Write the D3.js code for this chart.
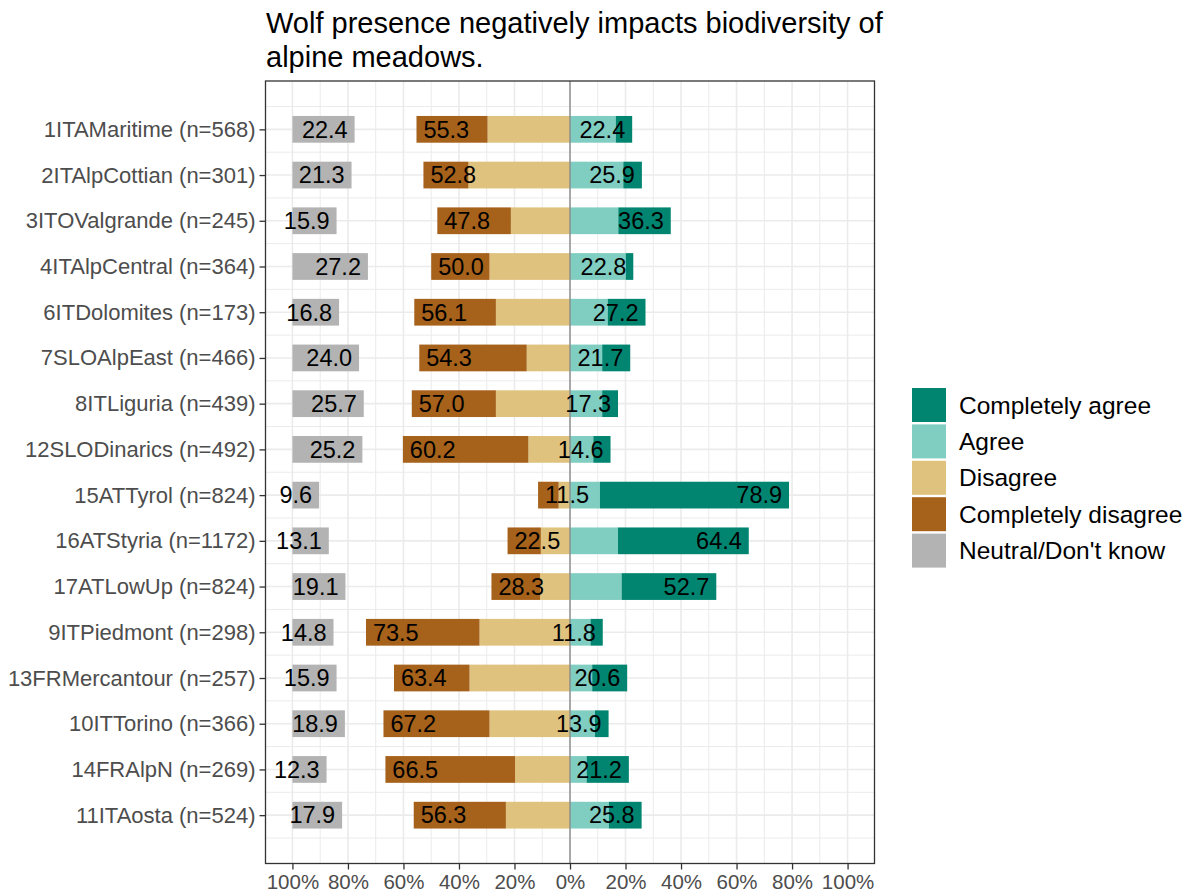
<!DOCTYPE html>
<html>
<head>
<meta charset="utf-8">
<script src="https://cdn.jsdelivr.net/npm/d3@7"></script>
<style>
  html, body { margin: 0; padding: 0; background: #fff; }
  svg { display: block; font-family: "Liberation Sans", Arial, sans-serif; }
</style>
</head>
<body>
<svg id="chart" width="1194" height="894"></svg>
<script>
const categories = [
  "1ITAMaritime (n=568)", "2ITAlpCottian (n=301)", "3ITOValgrande (n=245)", "4ITAlpCentral (n=364)",
  "6ITDolomites (n=173)", "7SLOAlpEast (n=466)", "8ITLiguria (n=439)", "12SLODinarics (n=492)",
  "15ATTyrol (n=824)", "16ATStyria (n=1172)", "17ATLowUp (n=824)", "9ITPiedmont (n=298)",
  "13FRMercantour (n=257)", "10ITTorino (n=366)", "14FRAlpN (n=269)", "11ITAosta (n=524)"
];
const completelyDisagree = [25.6, 16.2, 26.5, 21.0, 29.4, 38.7, 30.3, 45.2, 7.4, 12.0, 17.5, 40.9, 27.2, 38.2, 46.7, 33.2];
const disagree           = [29.7, 36.6, 21.3, 29.0, 26.7, 15.6, 26.7, 15.0, 4.1, 10.5, 10.8, 32.6, 36.2, 29.0, 19.8, 23.1];
const agree              = [16.5, 19.2, 17.4, 20.1, 13.6, 11.6, 11.6, 8.4, 10.8, 17.3, 18.6, 7.4, 8.0, 9.0, 6.0, 14.0];
const completelyAgree    = [5.9, 6.7, 18.9, 2.7, 13.6, 10.1, 5.7, 6.2, 68.1, 47.1, 34.1, 4.4, 12.6, 4.9, 15.2, 11.8];
const neutral            = [22.4, 21.3, 15.9, 27.2, 16.8, 24.0, 25.7, 25.2, 9.6, 13.1, 19.1, 14.8, 15.9, 18.9, 12.3, 17.9];

const legendLabels = ["Completely agree", "Agree", "Disagree", "Completely disagree", "Neutral/Don't know"];
const legendColors = ["#018571", "#80CDC1", "#DFC27D", "#A6611A", "#B3B3B3"];
const xTicks = [-1, -0.8, -0.6, -0.4, -0.2, 0, 0.2, 0.4, 0.6, 0.8, 1];
const title = ["Wolf presence negatively impacts biodiversity of", "alpine meadows."];

const svg = d3.select("#chart");
const panel = { left: 265.5, right: 874.5, top: 81, bottom: 863.5 };

const x = d3.scaleLinear().domain([-1.097, 1.097]).range([panel.left, panel.right]);
const y = d3.scalePoint().domain(categories).range([panel.top, panel.bottom]).padding(1.057);
const step = y.step();
const barH = step * 0.585;
const col = d3.scaleOrdinal().domain(legendLabels).range(legendColors);

svg.append("rect").attr("x", panel.left).attr("y", panel.top)
  .attr("width", panel.right - panel.left).attr("height", panel.bottom - panel.top)
  .attr("fill", "#fff");

const grid = svg.append("g");
d3.range(-11, 12).forEach(k => {
  const r = k / 10;
  const isMajor = k % 2 === 0;
  if (x(r) < panel.left || x(r) > panel.right) return;
  grid.append("line").attr("x1", x(r)).attr("x2", x(r))
    .attr("y1", panel.top).attr("y2", panel.bottom)
    .attr("stroke", "#EBEBEB").attr("stroke-width", isMajor ? 1.6 : 1);
});
categories.forEach(c => {
  grid.append("line").attr("x1", panel.left).attr("x2", panel.right)
    .attr("y1", y(c)).attr("y2", y(c)).attr("stroke", "#EBEBEB").attr("stroke-width", 1.6);
});
for (let i = -1; i < categories.length; i++) {
  const yy = (i >= 0 ? y(categories[i]) : y(categories[0]) - step) + step / 2;
  if (yy < panel.top || yy > panel.bottom) continue;
  grid.append("line").attr("x1", panel.left).attr("x2", panel.right)
    .attr("y1", yy).attr("y2", yy).attr("stroke", "#EBEBEB").attr("stroke-width", 1);
}

const segs = [];
categories.forEach((c, i) => {
  const cd = completelyDisagree[i] / 100, d = disagree[i] / 100;
  const a = agree[i] / 100, ca = completelyAgree[i] / 100, n = neutral[i] / 100;
  segs.push({ c, k: "Disagree", x0: -d, x1: 0 });
  segs.push({ c, k: "Completely disagree", x0: -d - cd, x1: -d });
  segs.push({ c, k: "Agree", x0: 0, x1: a });
  segs.push({ c, k: "Completely agree", x0: a, x1: a + ca });
  segs.push({ c, k: "Neutral/Don't know", x0: -1, x1: -1 + n });
});

svg.append("g").selectAll("rect").data(segs).join("rect")
  .attr("x", s => x(s.x0)).attr("width", s => x(s.x1) - x(s.x0))
  .attr("y", s => y(s.c) - barH / 2).attr("height", barH)
  .attr("fill", s => col(s.k));

svg.append("line").attr("x1", x(0)).attr("x2", x(0))
  .attr("y1", panel.top).attr("y2", panel.bottom)
  .attr("stroke", "#8A8A8A").attr("stroke-width", 1.4);

const off = 0.025;
const lab = svg.append("g").attr("font-size", 23.5).attr("fill", "#000");
categories.forEach((c, i) => {
  const low = completelyDisagree[i] + disagree[i];
  const high = agree[i] + completelyAgree[i];
  const n = neutral[i];
  const yy = y(c) + 8.3;
  lab.append("text").attr("x", x(-low / 100 + off)).attr("y", yy)
    .attr("text-anchor", "start").text(low.toFixed(1));
  lab.append("text").attr("x", x(high / 100 - off)).attr("y", yy)
    .attr("text-anchor", "end").text(high.toFixed(1));
  lab.append("text").attr("x", x(-1 + n / 100 - off)).attr("y", yy)
    .attr("text-anchor", "end").text(n.toFixed(1));
});

svg.append("rect").attr("x", panel.left).attr("y", panel.top)
  .attr("width", panel.right - panel.left).attr("height", panel.bottom - panel.top)
  .attr("fill", "none").attr("stroke", "#333").attr("stroke-width", 1.3);

const xAxis = d3.axisBottom(x).tickValues(xTicks).tickSize(6).tickPadding(5)
  .tickFormat(v => Math.round(Math.abs(v) * 100) + "%");
const gx = svg.append("g").attr("transform", `translate(0,${panel.bottom})`).call(xAxis);
gx.select(".domain").remove();
gx.selectAll(".tick line").attr("stroke", "#333").attr("stroke-width", 1.3);
gx.selectAll(".tick text").attr("fill", "#4D4D4D").attr("font-size", 20.5)
  .attr("font-family", "Liberation Sans, Arial, sans-serif");

const yAxis = d3.axisLeft(y).tickSize(6).tickPadding(4);
const gy = svg.append("g").attr("transform", `translate(${panel.left},0)`).call(yAxis);
gy.select(".domain").remove();
gy.selectAll(".tick line").attr("stroke", "#333").attr("stroke-width", 1.3);
gy.selectAll(".tick text").attr("fill", "#4D4D4D").attr("font-size", 22)
  .attr("font-family", "Liberation Sans, Arial, sans-serif");

const t = svg.append("text").attr("x", 266).attr("y", 33).attr("font-size", 29).attr("fill", "#000");
title.forEach((line, i) => {
  t.append("tspan").attr("x", 266).attr("dy", i === 0 ? 0 : 34).text(line);
});

const lg = svg.append("g").attr("transform", "translate(912,388)");
legendLabels.forEach((l, i) => {
  const g = lg.append("g").attr("transform", `translate(0,${i * 36.4})`);
  g.append("rect").attr("width", 34).attr("height", 34).attr("fill", col(l));
  g.append("text").attr("x", 47).attr("y", 17 + 8.5).attr("font-size", 24.5).attr("fill", "#000").text(l);
});
</script>
</body>
</html>
